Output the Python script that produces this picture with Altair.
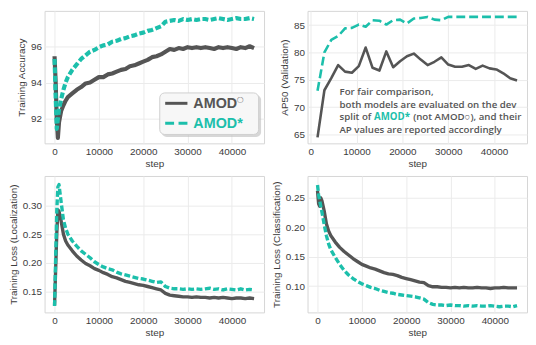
import altair as alt
import pandas as pd

# ---------------- data ----------------
STEPS = [0, 250, 500, 750, 1000, 1500, 2000, 2500, 3000,
         4000, 5000, 6000, 7000, 8000, 9000, 10000, 11000, 12000, 13000,
         14000, 15000, 16000, 17000, 18000, 19000, 20000, 21000, 22000, 23000,
         24000, 25000, 26000, 27000, 28000, 29000, 30000, 31000, 32000, 33000,
         34000, 35000, 36000, 37000, 38000, 39000, 40000, 41000, 42000, 43000,
         44000, 45000]

ACC_BASE = [95.45, 94.0, 92.0, 90.95, 91.8, 92.45, 92.75, 93.0, 93.2,
            93.4, 93.6, 93.75, 93.95, 94.0, 94.15, 94.3, 94.3, 94.45, 94.5,
            94.6, 94.7, 94.75, 94.9, 94.95, 95.05, 95.15, 95.25, 95.4, 95.45,
            95.55, 95.7, 95.85, 95.8, 95.9, 95.85, 95.95, 95.9, 95.95, 95.9,
            95.95, 95.9, 95.85, 95.95, 95.9, 95.95, 95.9, 95.85, 95.95, 95.9,
            96.0, 95.9]
ACC_STAR = [95.3, 93.2, 91.45, 92.0, 92.5, 93.1, 93.6, 94.0, 94.3,
            94.7, 95.0, 95.3, 95.5, 95.7, 95.8, 95.95, 96.05, 96.1, 96.25,
            96.3, 96.4, 96.45, 96.55, 96.6, 96.7, 96.75, 96.85, 96.9, 97.0,
            97.1, 97.35, 97.4, 97.45, 97.4, 97.5, 97.45, 97.5, 97.45, 97.5,
            97.5, 97.45, 97.5, 97.55, 97.5, 97.45, 97.5, 97.55, 97.5, 97.5,
            97.55, 97.5]

LOC_BASE = [0.126, 0.19, 0.25, 0.292, 0.29, 0.272, 0.25, 0.238, 0.231,
            0.221, 0.212, 0.205, 0.199, 0.195, 0.19, 0.187, 0.183, 0.18, 0.176,
            0.174, 0.171, 0.168, 0.166, 0.164, 0.162, 0.161, 0.159, 0.157, 0.155,
            0.153, 0.147, 0.144, 0.143, 0.142, 0.141, 0.141, 0.140, 0.141, 0.140,
            0.140, 0.139, 0.140, 0.139, 0.140, 0.139, 0.138, 0.139, 0.139, 0.138,
            0.139, 0.138]
LOC_STAR = [0.125, 0.21, 0.29, 0.332, 0.336, 0.305, 0.275, 0.26, 0.25,
            0.238, 0.229, 0.221, 0.215, 0.209, 0.202, 0.197, 0.193, 0.19, 0.188,
            0.184, 0.181, 0.179, 0.177, 0.175, 0.173, 0.172, 0.170, 0.168, 0.166,
            0.167, 0.159, 0.156, 0.155, 0.155, 0.154, 0.155, 0.154, 0.155, 0.154,
            0.155, 0.156, 0.154, 0.155, 0.153, 0.155, 0.154, 0.153, 0.155, 0.153,
            0.154, 0.153]

CLS_BASE = [0.262, 0.24, 0.236, 0.25, 0.245, 0.228, 0.206, 0.194, 0.186,
            0.175, 0.166, 0.159, 0.153, 0.147, 0.142, 0.137, 0.134, 0.131, 0.129,
            0.126, 0.123, 0.121, 0.12, 0.118, 0.115, 0.113, 0.111, 0.109, 0.107,
            0.106, 0.101, 0.099, 0.099, 0.098, 0.098, 0.097, 0.098, 0.097, 0.098,
            0.097, 0.097, 0.098, 0.097, 0.097, 0.096, 0.097, 0.097, 0.098, 0.097,
            0.097, 0.097]
CLS_STAR = [0.272, 0.255, 0.245, 0.235, 0.226, 0.205, 0.186, 0.172, 0.162,
            0.149, 0.137, 0.127, 0.119, 0.113, 0.108, 0.104, 0.101, 0.098, 0.096,
            0.093, 0.091, 0.089, 0.088, 0.086, 0.085, 0.084, 0.083, 0.082, 0.080,
            0.078, 0.072, 0.069, 0.068, 0.068, 0.067, 0.068, 0.067, 0.067, 0.066,
            0.067, 0.066, 0.067, 0.066, 0.066, 0.067, 0.066, 0.065, 0.066, 0.066,
            0.065, 0.067]

VAL_STEPS = [1500, 3000, 4500, 6000, 7500, 9000, 10500, 12000, 13500, 15000,
             16500, 18000, 19500, 21000, 22500, 24000, 25500, 27000, 28500, 30000,
             31500, 33000, 34500, 36000, 37500, 39000, 40500, 42000, 43500, 45000]
AP_BASE = [64.5, 73.1, 75.3, 77.7, 76.5, 76.3, 77.5, 80.9, 77.2, 76.7,
           80.2, 77.3, 78.4, 79.3, 79.8, 78.7, 77.7, 78.3, 79.1, 77.8,
           77.4, 77.4, 77.7, 77.0, 77.6, 77.1, 76.9, 76.2, 75.3, 74.9]
AP_STAR = [73.0, 80.0, 82.3, 83.0, 84.4, 84.5, 85.1, 84.7, 85.9, 85.8,
           85.1, 85.9, 86.0, 85.3, 86.2, 86.3, 86.5, 86.0, 85.9, 86.5,
           86.5, 86.5, 86.5, 86.5, 86.5, 86.5, 86.5, 86.5, 86.5, 86.5]

LABEL_BASE = "AMOD"
LABEL_STAR = "AMOD*"
X_TICKS = [0, 10000, 20000, 30000, 40000]

NOTE_L1 = "For fair comparison,"
NOTE_L2 = "both models are evaluated on the dev"
NOTE_L3A = "split of"
NOTE_L3B = "AMOD*"
NOTE_L3C = "(not AMOD\u25cb), and their"
NOTE_L4 = "AP values are reported accordingly"

# ---------------- style ----------------
DARK = "#555555"
TEAL = "#1cbfab"
TXT = "#555555"
FONT = "Liberation Sans"
NOTE_FONT = "Open Sans"
W = 222
ONE = pd.DataFrame({"k": [0]})


def line_panel(steps, base, star, ytitle, ydom, yvals, yfmt, xdom, sw, dash):
    d_base = pd.DataFrame({"step": steps, "value": base})
    d_star = pd.DataFrame({"step": steps, "value": star})
    X = alt.X("step:Q",
              scale=alt.Scale(domain=xdom, nice=False, zero=False),
              axis=alt.Axis(values=X_TICKS, format="d", title="step"))
    Y = alt.Y("value:Q",
              scale=alt.Scale(domain=ydom, nice=False, zero=False),
              axis=alt.Axis(values=yvals, format=yfmt, title=ytitle))
    l1 = alt.Chart(d_base).mark_line(color=DARK, strokeWidth=sw, strokeJoin="round",
                                     clip=True).encode(x=X, y=Y)
    l2 = alt.Chart(d_star).mark_line(color=TEAL, strokeWidth=sw, strokeDash=dash,
                                     strokeJoin="round", clip=True).encode(x=X, y=Y)
    return [l1, l2]


def txt(text, x, y, color=TXT, size=9.8, weight=600, font=NOTE_FONT):
    return alt.Chart(ONE).mark_text(text=text, align="left", baseline="middle", font=font,
                                    fontSize=size, fontWeight=weight, color=color).encode(
        x=alt.value(x), y=alt.value(y))


XD_TRAIN = [-2250, 47250]

# Panel 1: accuracy + legend
p1_layers = line_panel(STEPS, ACC_BASE, ACC_STAR, "Training Accuracy", [90.65, 97.95],
                       [92, 94, 96], "d", XD_TRAIN, 4.2, [6, 2.5])
shadow = alt.Chart(ONE).mark_rect(color="#bdbdbd", opacity=0.6, cornerRadius=5).encode(
    x=alt.value(118.5), x2=alt.value(219), y=alt.value(85), y2=alt.value(127.5))
box = alt.Chart(ONE).mark_rect(fill="#f7f7f7", stroke="#cfcfcf", strokeWidth=1,
                               cornerRadius=5).encode(
    x=alt.value(116.5), x2=alt.value(216.5), y=alt.value(83), y2=alt.value(125))
leg_l1 = alt.Chart(ONE).mark_rule(color=DARK, strokeWidth=3).encode(
    x=alt.value(122), x2=alt.value(144.5), y=alt.value(93.5))
leg_l2 = alt.Chart(ONE).mark_rule(color=TEAL, strokeWidth=3, strokeDash=[9, 4.5]).encode(
    x=alt.value(122), x2=alt.value(144.5), y=alt.value(113.7))
leg_t1 = txt(LABEL_BASE, 150.5, 94, color=DARK, size=14.5, weight="bold", font=FONT)
leg_c1 = txt("\u25cb", 194.5, 90.5, color="#777777", size=8, weight="normal", font="DejaVu Sans")
leg_t2 = txt(LABEL_STAR, 150.5, 114.2, color=TEAL, size=14.5, weight="bold", font=FONT)
p1 = alt.layer(*p1_layers, shadow, box, leg_l1, leg_l2, leg_t1, leg_c1, leg_t2).properties(
    width=W, height=134)

# Panel 2: validation AP + note
p2_layers = line_panel(VAL_STEPS, AP_BASE, AP_STAR, "AP50 (Validation)", [63.4, 87.6],
                       [65, 70, 75, 80, 85], "d", [-675, 47175], 2.6, [9, 4])
nx = 32.3
notes = [
    txt(NOTE_L1, nx, 82),
    txt(NOTE_L2, nx, 94.8),
    txt(NOTE_L3A, nx, 107.6),
    txt(NOTE_L3B, nx + 35, 107.6, color=TEAL, weight="bold"),
    txt(NOTE_L3C, nx + 74.5, 107.6),
    txt(NOTE_L4, nx, 120.4),
]
p2 = alt.layer(*p2_layers, *notes).properties(width=W, height=134)

# Panel 3: localization loss
p3 = alt.layer(*line_panel(STEPS, LOC_BASE, LOC_STAR, "Training Loss (Localization)",
                           [0.114, 0.351], [0.15, 0.20, 0.25, 0.30], ".2f", XD_TRAIN,
                           3.4, [6, 2.5])).properties(width=W, height=138)

# Panel 4: classification loss
p4 = alt.layer(*line_panel(STEPS, CLS_BASE, CLS_STAR, "Training Loss (Classification)",
                           [0.0554, 0.2874], [0.10, 0.15, 0.20, 0.25], ".2f", XD_TRAIN,
                           3.4, [6, 2.5])).properties(width=W, height=138)

chart = alt.concat(p1, p2, p3, p4, columns=2,
                   spacing={"row": 33, "column": 44}, bounds="flush").properties(
    padding={"left": 0, "top": 0, "right": 0, "bottom": 0}
).configure_view(
    stroke="#d6d6d6", strokeWidth=1
).configure_axis(
    labelFont=FONT, titleFont=FONT, labelFontSize=10, titleFontSize=10,
    labelColor="#3c3c3c", titleColor="#3c3c3c", titleFontWeight="normal",
    gridColor="#ebebeb", gridWidth=1, domain=False, ticks=False,
    labelPadding=3, titlePadding=4
).configure_axisX(titlePadding=2)

chart.save("out.html", embed_options={"renderer": "svg", "actions": False})
